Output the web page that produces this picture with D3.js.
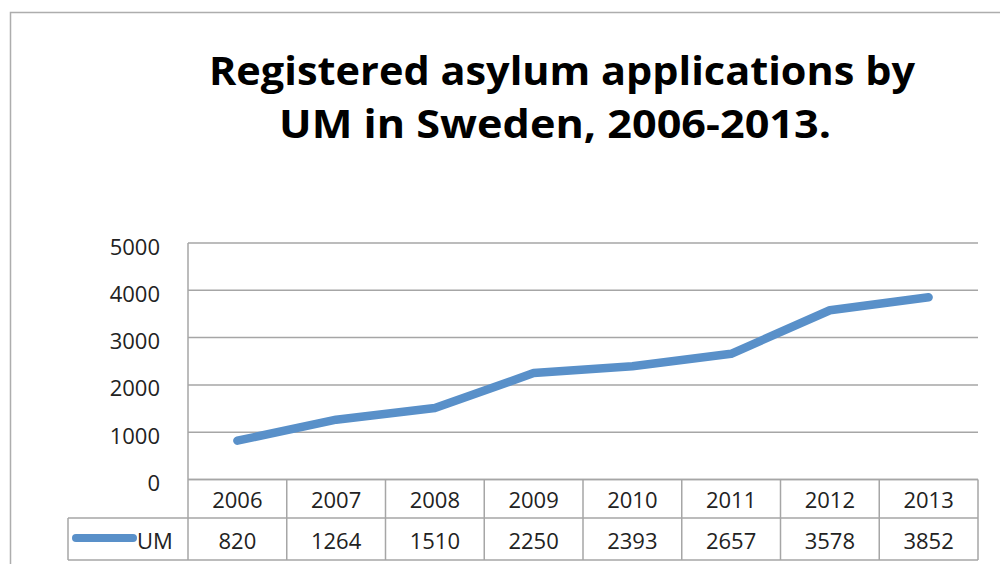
<!DOCTYPE html>
<html><head><meta charset="utf-8">
<script src="https://cdn.jsdelivr.net/npm/d3@7"></script>
<style>body{margin:0;background:#fff;overflow:hidden}svg{display:block}</style>
</head><body>
<script>
const titleLines = ["Registered asylum applications by", "UM in Sweden, 2006-2013."];
const years = ["2006","2007","2008","2009","2010","2011","2012","2013"];
const seriesName = "UM";
const values = [820, 1264, 1510, 2250, 2393, 2657, 3578, 3852];
const yTicks = [0, 1000, 2000, 3000, 4000, 5000];

(function () {
const W = 1000, H = 564;
const svg = d3.select("body").append("svg").attr("width", W).attr("height", H);
const font = "'Open Sans', 'Liberation Sans', sans-serif";
const grid = "#a6a6a6";
const blue = "#5990c9";

// outer border
svg.append("rect").attr("x", 10.5).attr("y", 12.5).attr("width", 1100).attr("height", 700)
  .attr("fill", "none").attr("stroke", "#adadad").attr("stroke-width", 1.5);

// title
const tl = [{t: titleLines[0], y: 85, x0: 209, x1: 915}, {t: titleLines[1], y: 138, x0: 279, x1: 831}];
svg.selectAll("text.title").data(tl).enter().append("text").attr("class", "title")
  .attr("x", d => d.x0).attr("y", d => d.y)
  .attr("textLength", d => d.x1 - d.x0).attr("lengthAdjust", "spacingAndGlyphs")
  .style("font-family", font).style("font-weight", 700).style("font-size", "40px").attr("fill", "#000")
  .text(d => d.t);

const pLeft = 188, pRight = 978, pTop = 243, pBottom = 479.5;
const x = d3.scaleBand().domain(years).range([pLeft, pRight]);
const y = d3.scaleLinear().domain([0, 5000]).range([pBottom, pTop]);

// gridlines
svg.append("g").selectAll("line").data(yTicks).enter().append("line")
  .attr("x1", pLeft).attr("x2", pRight).attr("y1", d => y(d)).attr("y2", d => y(d))
  .attr("stroke", grid).attr("stroke-width", 1.5);
// left axis line
svg.append("line").attr("x1", pLeft).attr("x2", pLeft).attr("y1", pTop).attr("y2", 560)
  .attr("stroke", grid).attr("stroke-width", 1.5);

// y labels
svg.append("g").selectAll("text").data(yTicks).enter().append("text")
  .attr("x", 160).attr("y", d => y(d) + 11.5).attr("text-anchor", "end")
  .style("font-family", font).style("font-size", "22px").attr("fill", "#222")
  .text(d => d);

// data table
const row1 = pBottom, row2 = 518, row3 = 560, tableLeft = 68;
const tg = svg.append("g").attr("stroke", grid).attr("stroke-width", 1.5);
tg.append("line").attr("x1", pLeft).attr("x2", pRight).attr("y1", row1).attr("y2", row1);
tg.append("line").attr("x1", tableLeft).attr("x2", pRight).attr("y1", row2).attr("y2", row2);
tg.append("line").attr("x1", tableLeft).attr("x2", pRight).attr("y1", row3).attr("y2", row3);
tg.append("line").attr("x1", tableLeft).attr("x2", tableLeft).attr("y1", row2).attr("y2", row3);
tg.selectAll("line.v").data(years).enter().append("line").attr("class", "v")
  .attr("x1", d => x(d) + x.bandwidth()).attr("x2", d => x(d) + x.bandwidth())
  .attr("y1", row1).attr("y2", row3);

svg.append("g").selectAll("text").data(years).enter().append("text")
  .attr("x", d => x(d) + x.bandwidth() / 2).attr("y", 508).attr("text-anchor", "middle")
  .style("font-family", font).style("font-size", "22px").attr("fill", "#222").text(d => d);
svg.append("g").selectAll("text").data(values).enter().append("text")
  .attr("x", (d, i) => x(years[i]) + x.bandwidth() / 2).attr("y", 549).attr("text-anchor", "middle")
  .style("font-family", font).style("font-size", "22px").attr("fill", "#222").text(d => d);

// legend key
svg.append("line").attr("x1", 76).attr("x2", 133).attr("y1", 538).attr("y2", 538)
  .attr("stroke", blue).attr("stroke-width", 8).attr("stroke-linecap", "round");
svg.append("text").attr("x", 137).attr("y", 549)
  .style("font-family", font).style("font-size", "22px").attr("fill", "#222").text(seriesName);

// line
const line = d3.line().x((d, i) => x(years[i]) + x.bandwidth() / 2).y(d => y(d));
svg.append("path").datum(values).attr("d", line).attr("fill", "none")
  .attr("stroke", blue).attr("stroke-width", 8.5).attr("stroke-linecap", "round").attr("stroke-linejoin", "round");
})();
</script>
</body></html>
